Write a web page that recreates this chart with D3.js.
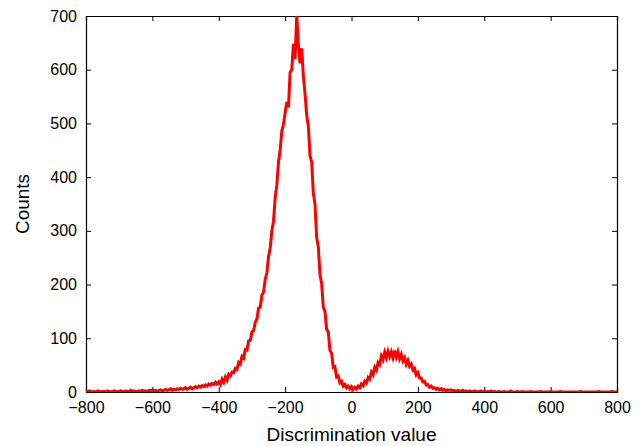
<!DOCTYPE html>
<html>
<head>
<meta charset="utf-8">
<script src="https://cdn.jsdelivr.net/npm/d3@7"></script>
<style>
  html, body { margin: 0; padding: 0; background: #fff; }
  svg { display: block; }
  text { font-family: "Liberation Sans", Arial, Helvetica, sans-serif; fill: #000; }
</style>
</head>
<body>
<svg id="chart" width="642" height="446"></svg>
<script>
// ---- DATA ----
const xStart = -800;
const xStep = 5;
const counts = [
  // -800 .. -600
  1,0,2,1,0,1,0,2,1,0,1,1,0,2,1,0,1,2,1,0,1,2,1,0,2,1,1,3,1,2,0,1,2,1,3,1,2,1,3,2,4,
  // -595 .. -400
  2,3,1,3,4,2,3,5,3,4,6,3,5,4,6,5,7,5,6,8,5,7,9,6,8,10,8,11,9,12,10,13,11,15,13,16,14,18,15,19,
  // -395 .. -200
  14,24,18,28,22,33,30,37,36,44,42,55,52,66,63,79,78,95,96,112,114,130,136,156,158,180,186,210,222,252,268,300,318,362,385,428,450,486,498,520,
  // -195 .. 0
  540,530,595,600,648,620,702,645,612,640,588,555,515,495,440,428,370,350,288,270,218,202,158,150,117,112,78,72,46,47,28,30,17,20,11,14,8,11,6,10,
  // 5 .. 200
  5,9,6,11,8,15,12,20,17,27,24,37,32,46,41,55,51,67,60,74,64,76,66,75,64,77,65,75,62,70,58,64,52,59,48,52,41,44,32,36,
  // 205 .. 400
  26,26,19,20,13,14,9,11,7,8,5,7,4,6,3,5,2,4,3,4,2,3,1,3,2,1,3,1,2,0,2,1,0,2,1,0,1,2,0,1,
  // 405 .. 600
  0,1,0,2,0,1,0,0,1,0,0,1,0,0,0,2,0,0,0,1,0,0,1,0,0,0,0,1,0,0,0,0,0,1,0,0,0,0,0,1,
  // 605 .. 800
  0,0,0,0,0,1,0,0,0,0,0,0,0,0,0,0,0,1,0,0,0,0,0,0,0,0,0,0,1,0,0,0,0,0,0,0,1,0,0,0
];
const xTicks = [-800, -600, -400, -200, 0, 200, 400, 600, 800];
const yTicks = [0, 100, 200, 300, 400, 500, 600, 700];
const xLabel = "Discrimination value";
const yLabel = "Counts";

const data = counts.map((c, i) => ({ x: xStart + i * xStep, y: c }));

// ---- LAYOUT ----
const W = 642, H = 446;
const m = { left: 86, top: 16, right: 25, bottom: 54 };
const iw = W - m.left - m.right, ih = H - m.top - m.bottom;

const svg = d3.select("#chart");
const g = svg.append("g").attr("transform", `translate(${m.left},${m.top})`);

const x = d3.scaleLinear().domain([-800, 800]).range([0, iw]);
const y = d3.scaleLinear().domain([0, 700]).range([ih, 0]);

svg.append("defs").append("clipPath").attr("id", "clip")
  .append("rect").attr("x", 0).attr("y", 0).attr("width", iw).attr("height", ih);

const fmt = d => d < 0 ? "\u2212" + Math.abs(d) : String(d);
const tl = 5;

// bottom axis
g.append("g").attr("transform", `translate(0,${ih})`)
  .call(d3.axisBottom(x).tickValues(xTicks).tickSize(-tl).tickPadding(10).tickFormat(fmt));
// top axis (ticks only)
g.append("g").call(d3.axisTop(x).tickValues(xTicks).tickSize(-tl).tickFormat(""));
// left axis
g.append("g")
  .call(d3.axisLeft(y).tickValues(yTicks).tickSize(-tl).tickPadding(9).tickFormat(d3.format("d")));
// right axis (ticks only)
g.append("g").attr("transform", `translate(${iw},0)`)
  .call(d3.axisRight(y).tickValues(yTicks).tickSize(-tl).tickFormat(""));

g.selectAll(".domain").attr("stroke", "#000").attr("stroke-width", 1.2);
g.selectAll(".tick line").attr("stroke", "#000").attr("stroke-width", 1);
g.selectAll(".tick text").attr("font-size", 16).attr("font-family", "'Liberation Sans', Arial, sans-serif").attr("fill", "#000");

// line
const line = d3.line().x(d => x(d.x)).y(d => y(d.y));
g.append("path")
  .datum(data)
  .attr("clip-path", "url(#clip)")
  .attr("fill", "none")
  .attr("stroke", "#ff0000")
  .attr("stroke-width", 3)
  .attr("stroke-linejoin", "miter")
  .attr("d", line);

// axis labels
svg.append("text")
  .attr("x", m.left + iw / 2).attr("y", 441)
  .attr("text-anchor", "middle").attr("font-size", 19)
  .text(xLabel);
svg.append("text")
  .attr("transform", `translate(29,${m.top + ih / 2}) rotate(-90)`)
  .attr("text-anchor", "middle").attr("font-size", 19)
  .text(yLabel);
</script>
</body>
</html>
